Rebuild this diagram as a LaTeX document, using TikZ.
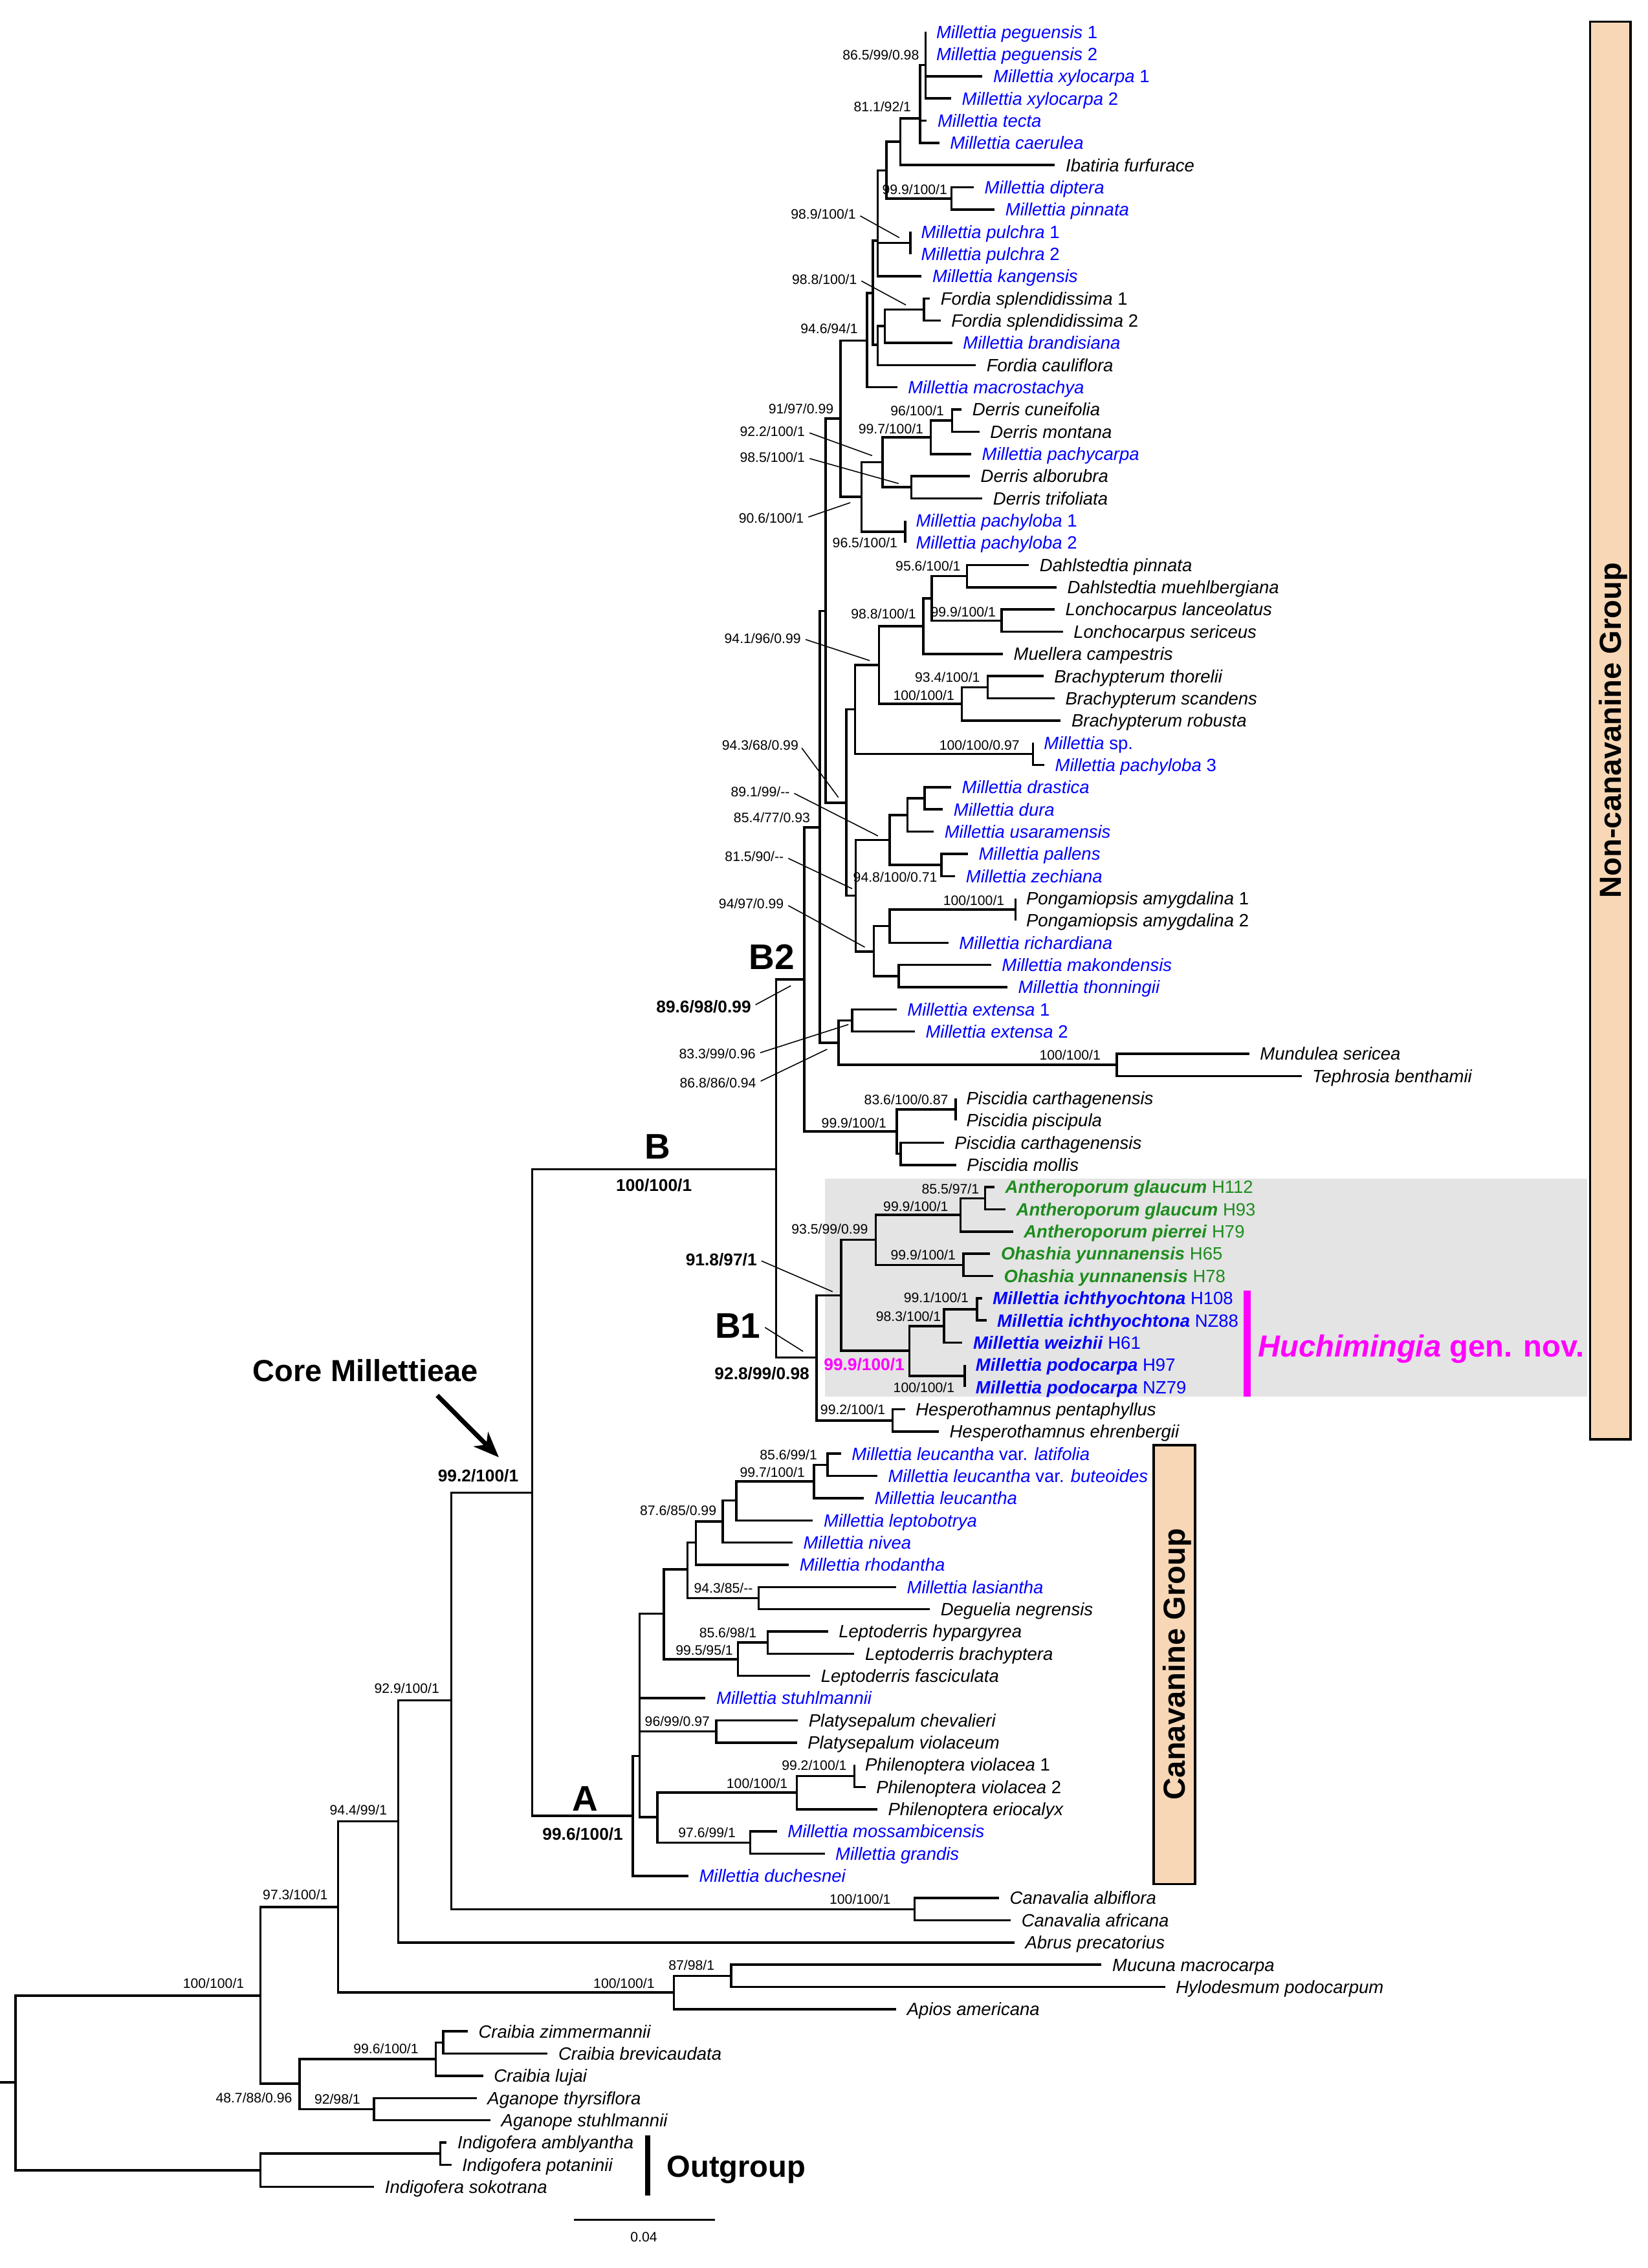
\documentclass[tikz,border=0pt]{standalone}
\usepackage{fontspec}
\setmainfont{Liberation Sans}
\usetikzlibrary{arrows.meta}
\definecolor{milblue}{RGB}{0,0,255}
\definecolor{antgreen}{RGB}{30,140,30}
\definecolor{hucmagenta}{RGB}{255,0,255}
\definecolor{peach}{RGB}{248,215,182}
\definecolor{boxgray}{RGB}{228,228,228}

\begin{document}
\begin{tikzpicture}[x=0.02cm, y=-0.02cm, line width=0.9pt,
    declare function={ry(\x)=22+15.36*(\x-1);},
    tx/.style={anchor=west, inner xsep=3.8pt, inner ysep=0pt, text height=5pt, text depth=0pt, font=\fontsize{7}{8}\selectfont\itshape},
    bk/.style={tx},
    bl/.style={tx, text=milblue},
    gn/.style={tx, text=antgreen, font=\fontsize{7}{8}\selectfont\bfseries\itshape},
    bb/.style={tx, text=milblue, font=\fontsize{7}{8}\selectfont\bfseries\itshape},
    sup/.style={anchor=east, inner sep=0pt, text height=3.8pt, text depth=0pt, font=\fontsize{5.4}{6}\selectfont},
    bsup/.style={inner sep=0pt, text height=4.8pt, text depth=0pt, font=\fontsize{6.7}{8}\selectfont\bfseries},
    cladelab/.style={inner sep=0pt, text height=10pt, text depth=0pt, font=\fontsize{14}{16}\selectfont\bfseries},
    grp/.style={inner sep=0pt, text height=8.6pt, text depth=0pt, font=\fontsize{12}{14}\selectfont\bfseries},
    lead/.style={line width=0.4pt, shorten <=1.5pt}]
    \useasboundingbox (0,0) rectangle (1139,1568);

    % shaded box and group bars
    \fill[boxgray] (570,814.7) rectangle (1097,965.7);
    \draw[fill=peach] (1099,15) rectangle (1127,995);
    \draw[fill=peach] (797.4,999.2) rectangle (826,1302.6);
    \fill[hucmagenta] (859.4,892.2) rectangle (864.5,965.7);
    \draw[line width=2.2pt] (447.6,1476.2) -- (447.6,1517.8);

    % taxa
    \node[bl] (peg1) at (639.7,{ry(1)}) {Millettia peguensis \textup{1}};
    \node[bl] (peg2) at (639.7,{ry(2)}) {Millettia peguensis \textup{2}};
    \node[bl] (xyl1) at (679.1,{ry(3)}) {Millettia xylocarpa \textup{1}};
    \node[bl] (xyl2) at (657.4,{ry(4)}) {Millettia xylocarpa \textup{2}};
    \node[bl] (tect) at (640.6,{ry(5)}) {Millettia tecta};
    \node[bl] (caer) at (649.2,{ry(6)}) {Millettia caerulea};
    \node[bk] (ibat) at (729.2,{ry(7)}) {Ibatiria furfurace};
    \node[bl] (dipt) at (673.1,{ry(8)}) {Millettia diptera};
    \node[bl] (pinn) at (687.5,{ry(9)}) {Millettia pinnata};
    \node[bl] (pul1) at (629.2,{ry(10)}) {Millettia pulchra \textup{1}};
    \node[bl] (pul2) at (629.2,{ry(11)}) {Millettia pulchra \textup{2}};
    \node[bl] (kang) at (637.0,{ry(12)}) {Millettia kangensis};
    \node[bk] (fsp1) at (642.7,{ry(13)}) {Fordia splendidissima \textup{1}};
    \node[bk] (fsp2) at (650.1,{ry(14)}) {Fordia splendidissima \textup{2}};
    \node[bl] (bran) at (658.2,{ry(15)}) {Millettia brandisiana};
    \node[bk] (fcau) at (674.5,{ry(16)}) {Fordia cauliflora};
    \node[bl] (macr) at (620.2,{ry(17)}) {Millettia macrostachya};
    \node[bk] (dcun) at (664.7,{ry(18)}) {Derris cuneifolia};
    \node[bk] (dmon) at (677.0,{ry(19)}) {Derris montana};
    \node[bl] (pchc) at (671.3,{ry(20)}) {Millettia pachycarpa};
    \node[bk] (dalb) at (670.4,{ry(21)}) {Derris alborubra};
    \node[bk] (dtri) at (679.0,{ry(22)}) {Derris trifoliata};
    \node[bl] (pch1) at (625.6,{ry(23)}) {Millettia pachyloba \textup{1}};
    \node[bl] (pch2) at (625.6,{ry(24)}) {Millettia pachyloba \textup{2}};
    \node[bk] (dpin) at (711.2,{ry(25)}) {Dahlstedtia pinnata};
    \node[bk] (dmue) at (730.3,{ry(26)}) {Dahlstedtia muehlbergiana};
    \node[bk] (llan) at (728.9,{ry(27)}) {Lonchocarpus lanceolatus};
    \node[bk] (lser) at (734.6,{ry(28)}) {Lonchocarpus sericeus};
    \node[bk] (mcam) at (693.2,{ry(29)}) {Muellera campestris};
    \node[bk] (bth) at (721.2,{ry(30)}) {Brachypterum thorelii};
    \node[bk] (bsc) at (728.9,{ry(31)}) {Brachypterum scandens};
    \node[bk] (bro) at (733.2,{ry(32)}) {Brachypterum robusta};
    \node[bl] (msp) at (714.1,{ry(33)}) {Millettia \textup{sp.}};
    \node[bl] (pch3) at (721.8,{ry(34)}) {Millettia pachyloba \textup{3}};
    \node[bl] (dras) at (657.4,{ry(35)}) {Millettia drastica};
    \node[bl] (dura) at (651.7,{ry(36)}) {Millettia dura};
    \node[bl] (usar) at (645.4,{ry(37)}) {Millettia usaramensis};
    \node[bl] (pall) at (669.0,{ry(38)}) {Millettia pallens};
    \node[bl] (zech) at (660.2,{ry(39)}) {Millettia zechiana};
    \node[bk] (pam1) at (701.9,{ry(40)}) {Pongamiopsis amygdalina \textup{1}};
    \node[bk] (pam2) at (701.9,{ry(41)}) {Pongamiopsis amygdalina \textup{2}};
    \node[bl] (rich) at (655.5,{ry(42)}) {Millettia richardiana};
    \node[bl] (mako) at (685.0,{ry(43)}) {Millettia makondensis};
    \node[bl] (thon) at (696.3,{ry(44)}) {Millettia thonningii};
    \node[bl] (ext1) at (619.7,{ry(45)}) {Millettia extensa \textup{1}};
    \node[bl] (ext2) at (632.3,{ry(46)}) {Millettia extensa \textup{2}};
    \node[bk] (muse) at (863.5,{ry(47)}) {Mundulea sericea};
    \node[bk] (teph) at (899.6,{ry(48)}) {Tephrosia benthamii};
    \node[bk] (pca1) at (660.5,{ry(49)}) {Piscidia carthagenensis};
    \node[bk] (ppis) at (660.5,{ry(50)}) {Piscidia piscipula};
    \node[bk] (pca2) at (652.4,{ry(51)}) {Piscidia carthagenensis};
    \node[bk] (pmol) at (660.9,{ry(52)}) {Piscidia mollis};
    \node[gn] (ag112) at (687.4,{ry(53)}) {Antheroporum glaucum \textnormal{H112}};
    \node[gn] (ag93) at (695.0,{ry(54)}) {Antheroporum glaucum \textnormal{H93}};
    \node[gn] (ap79) at (700.2,{ry(55)}) {Antheroporum pierrei \textnormal{H79}};
    \node[gn] (oy65) at (684.4,{ry(56)}) {Ohashia yunnanensis \textnormal{H65}};
    \node[gn] (oy78) at (686.5,{ry(57)}) {Ohashia yunnanensis \textnormal{H78}};
    \node[bb] (mi108) at (678.8,{ry(58)}) {Millettia ichthyochtona \textnormal{H108}};
    \node[bb] (mi88) at (681.8,{ry(59)}) {Millettia ichthyochtona \textnormal{NZ88}};
    \node[bb] (mw61) at (665.2,{ry(60)}) {Millettia weizhii \textnormal{H61}};
    \node[bb] (mp97) at (666.9,{ry(61)}) {Millettia podocarpa \textnormal{H97}};
    \node[bb] (mp79) at (666.9,{ry(62)}) {Millettia podocarpa \textnormal{NZ79}};
    \node[bk] (hpen) at (625.5,{ry(63)}) {Hesperothamnus pentaphyllus};
    \node[bk] (hehr) at (648.9,{ry(64)}) {Hesperothamnus ehrenbergii};
    \node[bl] (lvl) at (581.2,{ry(65)}) {Millettia leucantha \textup{var.} latifolia};
    \node[bl] (lvb) at (606.4,{ry(66)}) {Millettia leucantha \textup{var.} buteoides};
    \node[bl] (leuc) at (597.1,{ry(67)}) {Millettia leucantha};
    \node[bl] (lept) at (561.9,{ry(68)}) {Millettia leptobotrya};
    \node[bl] (nive) at (547.8,{ry(69)}) {Millettia nivea};
    \node[bl] (rhod) at (545.2,{ry(70)}) {Millettia rhodantha};
    \node[bl] (lasi) at (619.4,{ry(71)}) {Millettia lasiantha};
    \node[bk] (degu) at (642.7,{ry(72)}) {Deguelia negrensis};
    \node[bk] (lhyp) at (572.3,{ry(73)}) {Leptoderris hypargyrea};
    \node[bk] (lbra) at (590.5,{ry(74)}) {Leptoderris brachyptera};
    \node[bk] (lfas) at (560.0,{ry(75)}) {Leptoderris fasciculata};
    \node[bl] (stuh) at (487.7,{ry(76)}) {Millettia stuhlmannii};
    \node[bk] (pche) at (551.5,{ry(77)}) {Platysepalum chevalieri};
    \node[bk] (pvio) at (550.8,{ry(78)}) {Platysepalum violaceum};
    \node[bk] (phv1) at (590.5,{ry(79)}) {Philenoptera violacea \textup{1}};
    \node[bk] (phv2) at (598.2,{ry(80)}) {Philenoptera violacea \textup{2}};
    \node[bk] (pher) at (606.4,{ry(81)}) {Philenoptera eriocalyx};
    \node[bl] (moss) at (537.0,{ry(82)}) {Millettia mossambicensis};
    \node[bl] (gran) at (570.0,{ry(83)}) {Millettia grandis};
    \node[bl] (duch) at (475.8,{ry(84)}) {Millettia duchesnei};
    \node[bk] (calb) at (690.5,{ry(85)}) {Canavalia albiflora};
    \node[bk] (cafr) at (698.6,{ry(86)}) {Canavalia africana};
    \node[bk] (abru) at (701.2,{ry(87)}) {Abrus precatorius};
    \node[bk] (mucu) at (761.4,{ry(88)}) {Mucuna macrocarpa};
    \node[bk] (hylo) at (805.3,{ry(89)}) {Hylodesmum podocarpum};
    \node[bk] (apio) at (619.5,{ry(90)}) {Apios americana};
    \node[bk] (czim) at (323.3,{ry(91)}) {Craibia zimmermannii};
    \node[bk] (cbre) at (378.5,{ry(92)}) {Craibia brevicaudata};
    \node[bk] (clu) at (333.9,{ry(93)}) {Craibia lujai};
    \node[bk] (athy) at (329.5,{ry(94)}) {Aganope thyrsiflora};
    \node[bk] (astu) at (339.0,{ry(95)}) {Aganope stuhlmannii};
    \node[bk] (iamb) at (308.8,{ry(96)}) {Indigofera amblyantha};
    \node[bk] (ipot) at (312.0,{ry(97)}) {Indigofera potaninii};
    \node[bk] (isok) at (258.6,{ry(98)}) {Indigofera sokotrana};

    % clades, tips upward
    \coordinate (N1) at (639.7,{ry(2.5)});
    \draw (N1) |- (peg1) (N1) |- (peg2) (N1) |- (xyl1) (N1) |- (xyl2);
    \coordinate (N2) at (636.0,{ry(4.89)});
    \draw (N2) |- (N1) (N2) |- (tect) (N2) |- (caer);
    \coordinate (N3) at (622.4,{ry(5.95)});
    \draw (N3) |- (N2) (N3) |- (ibat);
    \coordinate (DP) at (657.6,{ry(8.5)});
    \draw (DP) |- (dipt) (DP) |- (pinn);
    \coordinate (N4) at (612.6,{ry(7.24)});
    \draw (N4) |- (N3) (N4) |- (DP);
    \coordinate (PU) at (629.2,{ry(10.5)});
    \draw (PU) |- (pul1) (PU) |- (pul2);
    \coordinate (N5) at (606.7,{ry(10.4)});
    \draw (N5) |- (N4) (N5) |- (PU) (N5) |- (kang);
    \coordinate (FS) at (638.7,{ry(13.5)});
    \draw (FS) |- (fsp1) (FS) |- (fsp2);
    \coordinate (N6) at (611.5,{ry(14.25)});
    \draw (N6) |- (FS) (N6) |- (bran);
    \coordinate (N7) at (606.7,{ry(15.08)});
    \draw (N7) |- (N6) (N7) |- (fcau);
    \coordinate (N8) at (603.4,{ry(12.76)});
    \draw (N8) |- (N5) (N8) |- (N7);
    \coordinate (N9) at (599.4,{ry(14.9)});
    \draw (N9) |- (N8) (N9) |- (macr);
    \coordinate (DCM) at (658.1,{ry(18.5)});
    \draw (DCM) |- (dcun) (DCM) |- (dmon);
    \coordinate (DC) at (643.3,{ry(19.25)});
    \draw (DC) |- (DCM) (DC) |- (pchc);
    \coordinate (DA) at (629.9,{ry(21.5)});
    \draw (DA) |- (dalb) (DA) |- (dtri);
    \coordinate (D2) at (609.9,{ry(20.37)});
    \draw (D2) |- (DC) (D2) |- (DA);
    \coordinate (PC) at (625.6,{ry(23.5)});
    \draw (PC) |- (pch1) (PC) |- (pch2);
    \coordinate (D3) at (595.4,{ry(21.93)});
    \draw (D3) |- (D2) (D3) |- (PC);
    \coordinate (N10) at (581.0,{ry(18.4)});
    \draw (N10) |- (N9) (N10) |- (D3);
    \coordinate (DL) at (668.4,{ry(25.5)});
    \draw (DL) |- (dpin) (DL) |- (dmue);
    \coordinate (LO) at (692.4,{ry(27.5)});
    \draw (LO) |- (llan) (LO) |- (lser);
    \coordinate (L1) at (643.9,{ry(26.5)});
    \draw (L1) |- (DL) (L1) |- (LO);
    \coordinate (L2) at (638.2,{ry(27.75)});
    \draw (L2) |- (L1) (L2) |- (mcam);
    \coordinate (BR1) at (682.7,{ry(30.5)});
    \draw (BR1) |- (bth) (BR1) |- (bsc);
    \coordinate (BR2) at (664.7,{ry(31.25)});
    \draw (BR2) |- (BR1) (BR2) |- (bro);
    \coordinate (L3) at (607.6,{ry(29.5)});
    \draw (L3) |- (L2) (L3) |- (BR2);
    \coordinate (SP) at (714.1,{ry(33.5)});
    \draw (SP) |- (msp) (SP) |- (pch3);
    \coordinate (L4) at (591.1,{ry(31.5)});
    \draw (L4) |- (L3) (L4) |- (SP);
    \coordinate (DD) at (639.2,{ry(35.5)});
    \draw (DD) |- (dras) (DD) |- (dura);
    \coordinate (U1) at (627.2,{ry(36.25)});
    \draw (U1) |- (DD) (U1) |- (usar);
    \coordinate (PZ) at (650.8,{ry(38.5)});
    \draw (PZ) |- (pall) (PZ) |- (zech);
    \coordinate (U2) at (615.0,{ry(37.38)});
    \draw (U2) |- (U1) (U2) |- (PZ);
    \coordinate (PG) at (701.9,{ry(40.5)});
    \draw (PG) |- (pam1) (PG) |- (pam2);
    \coordinate (P1) at (615.0,{ry(41.25)});
    \draw (P1) |- (PG) (P1) |- (rich);
    \coordinate (MT) at (621.3,{ry(43.5)});
    \draw (MT) |- (mako) (MT) |- (thon);
    \coordinate (P2) at (604.0,{ry(42.4)});
    \draw (P2) |- (P1) (P2) |- (MT);
    \coordinate (M2) at (591.5,{ry(39.88)});
    \draw (M2) |- (U2) (M2) |- (P2);
    \coordinate (M1) at (585.0,{ry(35.7)});
    \draw (M1) |- (L4) (M1) |- (M2);
    \coordinate (N11) at (570.6,{ry(27.07)});
    \draw (N11) |- (N10) (N11) |- (M1);
    \coordinate (EX) at (588.9,{ry(45.5)});
    \draw (EX) |- (ext1) (EX) |- (ext2);
    \coordinate (MU) at (771.9,{ry(47.5)});
    \draw (MU) |- (muse) (MU) |- (teph);
    \coordinate (E1) at (579.5,{ry(46.5)});
    \draw (E1) |- (EX) (E1) |- (MU);
    \coordinate (N12) at (566.6,{ry(36.8)});
    \draw (N12) |- (N11) (N12) |- (E1);
    \coordinate (PSa) at (660.5,{ry(49.5)});
    \draw (PSa) |- (pca1) (PSa) |- (ppis);
    \coordinate (PSb) at (622.5,{ry(51.5)});
    \draw (PSb) |- (pca2) (PSb) |- (pmol);
    \coordinate (PS) at (619.9,{ry(50.5)});
    \draw (PS) |- (PSa) (PS) |- (PSb);
    \coordinate (B2) at (556.0,{ry(43.65)});
    \draw (B2) |- (N12) (B2) |- (PS);
    \coordinate (AG) at (681.0,{ry(53.5)});
    \draw (AG) |- (ag112) (AG) |- (ag93);
    \coordinate (AN) at (663.9,{ry(54.25)});
    \draw (AN) |- (AG) (AN) |- (ap79);
    \coordinate (OH) at (666.0,{ry(56.5)});
    \draw (OH) |- (oy65) (OH) |- (oy78);
    \coordinate (AO) at (605.4,{ry(55.37)});
    \draw (AO) |- (AN) (AO) |- (OH);
    \coordinate (IC) at (675.4,{ry(58.5)});
    \draw (IC) |- (mi108) (IC) |- (mi88);
    \coordinate (IW) at (652.4,{ry(59.25)});
    \draw (IW) |- (IC) (IW) |- (mw61);
    \coordinate (PO) at (666.9,{ry(61.5)});
    \draw (PO) |- (mp97) (PO) |- (mp79);
    \coordinate (HU) at (628.5,{ry(60.36)});
    \draw (HU) |- (IW) (HU) |- (PO);
    \coordinate (G) at (581.5,{ry(57.87)});
    \draw (G) |- (AO) (G) |- (HU);
    \coordinate (HE) at (616.9,{ry(63.5)});
    \draw (HE) |- (hpen) (HE) |- (hehr);
    \coordinate (B1) at (564.4,{ry(60.67)});
    \draw (B1) |- (G) (B1) |- (HE);
    \coordinate (B) at (536.5,{ry(52.2)});
    \draw (B) |- (B2) (B) |- (B1);
    \coordinate (LB) at (571.9,{ry(65.5)});
    \draw (LB) |- (lvl) (LB) |- (lvb);
    \coordinate (A8) at (562.6,{ry(66.25)});
    \draw (A8) |- (LB) (A8) |- (leuc);
    \coordinate (A7) at (508.9,{ry(67.1)});
    \draw (A7) |- (A8) (A7) |- (lept);
    \coordinate (A6) at (499.6,{ry(68.05)});
    \draw (A6) |- (A7) (A6) |- (nive);
    \coordinate (A5) at (481.0,{ry(69.0)});
    \draw (A5) |- (A6) (A5) |- (rhod);
    \coordinate (LD) at (524.4,{ry(71.5)});
    \draw (LD) |- (lasi) (LD) |- (degu);
    \coordinate (A4) at (475.1,{ry(70.2)});
    \draw (A4) |- (A5) (A4) |- (LD);
    \coordinate (LH) at (530.7,{ry(73.5)});
    \draw (LH) |- (lhyp) (LH) |- (lbra);
    \coordinate (LE) at (510.0,{ry(74.25)});
    \draw (LE) |- (LH) (LE) |- (lfas);
    \coordinate (A3) at (458.8,{ry(72.2)});
    \draw (A3) |- (A4) (A3) |- (LE);
    \coordinate (PL) at (495.1,{ry(77.5)});
    \draw (PL) |- (pche) (PL) |- (pvio);
    \coordinate (PV) at (590.5,{ry(79.5)});
    \draw (PV) |- (phv1) (PV) |- (phv2);
    \coordinate (PH) at (550.8,{ry(80.25)});
    \draw (PH) |- (PV) (PH) |- (pher);
    \coordinate (MG) at (518.5,{ry(82.5)});
    \draw (MG) |- (moss) (MG) |- (gran);
    \coordinate (PM) at (454.3,{ry(81.35)});
    \draw (PM) |- (PH) (PM) |- (MG);
    \coordinate (A2) at (442.0,{ry(78.6)});
    \draw (A2) |- (A3) (A2) |- (stuh) (A2) |- (PL) (A2) |- (PM);
    \coordinate (A) at (437.3,{ry(81.3)});
    \draw (A) |- (A2) (A) |- (duch);
    \coordinate (CORE) at (367.8,{ry(66.75)});
    \draw (CORE) |- (B) (CORE) |- (A);
    \coordinate (CV) at (632.1,{ry(85.5)});
    \draw (CV) |- (calb) (CV) |- (cafr);
    \coordinate (C1) at (312.0,{ry(76.1)});
    \draw (C1) |- (CORE) (C1) |- (CV);
    \coordinate (C2) at (275.2,{ry(81.55)});
    \draw (C2) |- (C1) (C2) |- (abru);
    \coordinate (MH) at (505.3,{ry(88.5)});
    \draw (MH) |- (mucu) (MH) |- (hylo);
    \coordinate (MHA) at (465.8,{ry(89.25)});
    \draw (MHA) |- (MH) (MHA) |- (apio);
    \coordinate (C3) at (233.7,{ry(85.4)});
    \draw (C3) |- (C2) (C3) |- (MHA);
    \coordinate (CZ) at (306.3,{ry(91.5)});
    \draw (CZ) |- (czim) (CZ) |- (cbre);
    \coordinate (CR) at (301.3,{ry(92.25)});
    \draw (CR) |- (CZ) (CR) |- (clu);
    \coordinate (AGp) at (258.6,{ry(94.5)});
    \draw (AGp) |- (athy) (AGp) |- (astu);
    \coordinate (CA) at (207.1,{ry(93.35)});
    \draw (CA) |- (CR) (CA) |- (AGp);
    \coordinate (C4) at (180.1,{ry(89.39)});
    \draw (C4) |- (C3) (C4) |- (CA);
    \coordinate (IA) at (304.4,{ry(96.5)});
    \draw (IA) |- (iamb) (IA) |- (ipot);
    \coordinate (IN) at (180.1,{ry(97.25)});
    \draw (IN) |- (IA) (IN) |- (isok);
    \coordinate (ROOT) at (10.7,{ry(93.3)});
    \draw (ROOT) |- (C4) (ROOT) |- (IN);
    \coordinate (stub) at (0,{ry(93.3)});
    \draw (stub) -- (ROOT);

    % support values
    \node[sup] (s01) at (636.0,38) {86.5/99/0.98};
    \node[sup] (s02) at (630.5,74) {81.1/92/1};
    \node[sup] (s03) at (655.5,131) {99.9/100/1};
    \node[sup] (s04) at (592.3,148) {98.9/100/1};
    \node[sup] (s05) at (593.1,193) {98.8/100/1};
    \node[sup] (s06) at (593.7,227.3) {94.6/94/1};
    \node[sup] (s07) at (576.9,282.5) {91/97/0.99};
    \node[sup] (s08) at (653.3,284.2) {96/100/1};
    \node[sup] (s09) at (639.0,296.6) {99.7/100/1};
    \node[sup] (s10) at (557.1,298.4) {92.2/100/1};
    \node[sup] (s11) at (557.1,316.3) {98.5/100/1};
    \node[sup] (s12) at (556.3,358.3) {90.6/100/1};
    \node[sup] (s13) at (621.1,375.4) {96.5/100/1};
    \node[sup] (s14) at (664.7,391.3) {95.6/100/1};
    \node[sup] (s15) at (633.9,424.5) {98.8/100/1};
    \node[sup] (s16) at (689.0,423) {99.9/100/1};
    \node[sup] (s17) at (554.3,441.3) {94.1/96/0.99};
    \node[sup] (s18) at (678.1,468.4) {93.4/100/1};
    \node[sup] (s19) at (660.4,480.7) {100/100/1};
    \node[sup] (s20) at (705.5,515) {100/100/0.97};
    \node[sup] (s21) at (552.6,515) {94.3/68/0.99};
    \node[sup] (s22) at (546.6,547.3) {89.1/99/{-}{-}};
    \node[sup] (s23) at (560.7,565.3) {85.4/77/0.93};
    \node[sup] (s24) at (542.5,592.3) {81.5/90/{-}{-}};
    \node[sup] (s25) at (648.6,606.4) {94.8/100/0.71};
    \node[sup] (s26) at (695.0,622.4) {100/100/1};
    \node[sup] (s27) at (542.5,624.8) {94/97/0.99};
    \node[sup] (s28) at (523.0,728.6) {83.3/99/0.96};
    \node[sup] (s29) at (523.4,748.6) {86.8/86/0.94};
    \node[sup] (s30) at (761.5,729.4) {100/100/1};
    \node[sup] (s31) at (656.2,760.4) {83.6/100/0.87};
    \node[sup] (s32) at (613.5,776.4) {99.9/100/1};
    \node[sup] (s33) at (677.5,821.9) {85.5/97/1};
    \node[sup] (s34) at (656.2,833.9) {99.9/100/1};
    \node[sup] (s35) at (600.7,849.9) {93.5/99/0.99};
    \node[sup] (s36) at (661.3,867.5) {99.9/100/1};
    \node[sup] (s37) at (670.3,897.3) {99.1/100/1};
    \node[sup] (s38) at (651.1,910.1) {98.3/100/1};
    \node[sup] (s39) at (660.5,959.3) {100/100/1};
    \node[sup] (s40) at (612.7,974.5) {99.2/100/1};
    \node[sup] (s41) at (565.6,1006) {85.6/99/1};
    \node[sup] (s42) at (557.1,1017.8) {99.7/100/1};
    \node[sup] (s43) at (495.9,1044.5) {87.6/85/0.99};
    \node[sup] (s44) at (521.1,1098.0) {94.3/85/{-}{-}};
    \node[sup] (s45) at (523.7,1128.7) {85.6/98/1};
    \node[sup] (s46) at (507.4,1140.8) {99.5/95/1};
    \node[sup] (s47) at (491.4,1190.1) {96/99/0.97};
    \node[sup] (s48) at (586.0,1220.7) {99.2/100/1};
    \node[sup] (s49) at (545.2,1232.9) {100/100/1};
    \node[sup] (s50) at (509.2,1267.1) {97.6/99/1};
    \node[sup] (s51) at (616.4,1313.3) {100/100/1};
    \node[sup] (s52) at (304.4,1167.2) {92.9/100/1};
    \node[sup] (s53) at (268.3,1251.3) {94.4/99/1};
    \node[sup] (s54) at (227.3,1310) {97.3/100/1};
    \node[sup] (s55) at (494.6,1358.9) {87/98/1};
    \node[sup] (s56) at (453.2,1371.4) {100/100/1};
    \node[sup] (s57) at (169.5,1371.4) {100/100/1};
    \node[sup] (s58) at (290.0,1416.3) {99.6/100/1};
    \node[sup] (s59) at (202.7,1450.4) {48.7/88/0.96};
    \node[sup] (s60) at (249.8,1451.3) {92/98/1};

    \node[bsup] (bsB) at (452,819.3) {100/100/1};
    \node[bsup] (bsCore) at (330.5,1020.2) {99.2/100/1};
    \node[bsup] (bsA) at (402.8,1267.8) {99.6/100/1};
    \node[bsup, anchor=east] (bsB2) at (519.9,695.9) {89.6/98/0.99};
    \node[bsup, anchor=east] (bsInner) at (523.9,870.7) {91.8/97/1};
    \node[bsup, anchor=east] (bsB1) at (560.2,949.5) {92.8/99/0.98};
    \node[bsup, anchor=west, text=hucmagenta] (bsHu) at (568.7,943.4) {99.9/100/1};

    % leader lines
    \coordinate (s04t) at (621.6,164.3);
    \coordinate (s05t) at (626.2,210.9);
    \coordinate (s10t) at (602.8,315.0);
    \coordinate (s11t) at (621.1,334.3);
    \coordinate (s12t) at (587.7,347.5);
    \coordinate (s17t) at (601.1,456.7);
    \coordinate (s21t) at (579.5,551.3);
    \coordinate (s22t) at (606.8,577.9);
    \coordinate (s24t) at (589.0,614.4);
    \coordinate (s27t) at (597.7,654.8);
    \coordinate (s28t) at (586.4,708.3);
    \coordinate (s29t) at (571.7,725.4);
    \coordinate (bsB2t) at (546.6,681.5);
    \coordinate (bsInnert) at (575.5,893.0);
    \coordinate (labB1t) at (555.1,934.3);
    \draw[lead] (s04.east) -- (s04t);
    \draw[lead] (s05.east) -- (s05t);
    \draw[lead] (s10.east) -- (s10t);
    \draw[lead] (s11.east) -- (s11t);
    \draw[lead] (s12.east) -- (s12t);
    \draw[lead] (s17.east) -- (s17t);
    \draw[lead] (s21.east) -- (s21t);
    \draw[lead] (s22.east) -- (s22t);
    \draw[lead] (s24.east) -- (s24t);
    \draw[lead] (s27.east) -- (s27t);
    \draw[lead] (s28.east) -- (s28t);
    \draw[lead] (s29.east) -- (s29t);
    \draw[lead] (bsB2.east) -- (bsB2t);
    \draw[lead] (bsInner.east) -- (bsInnert);

    % clade and group labels
    \node[cladelab] (labB) at (454.5,792.2) {B};
    \node[cladelab] (labB2) at (533.3,661.3) {B2};
    \node[cladelab] (labB1) at (510,916.3) {B1};
    \node[cladelab] (labA) at (404.3,1243.1) {A};
    \draw[lead] (labB1.east) -- (labB1t);
    \node[grp] (labCore) at (252.6,947.5) {Core Millettieae};
    \coordinate (arrS) at (302.2,964.7);
    \coordinate (arrE) at (344.8,1007.5);
    \draw[-{Stealth[length=10pt,width=8pt,inset=3pt]}, line width=1.8pt] (arrS) -- (arrE);
    \node[grp, anchor=west] (labOut) at (460.1,1497.8) {Outgroup};
    \node[grp, rotate=90] (labNon) at (1113,505) {Non-canavanine Group};
    \node[grp, rotate=90] (labCan) at (811.7,1150.5) {Canavanine Group};
    \node[grp, anchor=west, text=hucmagenta] (labHu) at (868.8,930.6) {\textit{Huchimingia} gen. nov.};

    % scale bar
    \draw (396.7,1534.6) -- (494,1534.6);
    \node[sup, anchor=center] (scale) at (445,1546.4) {0.04};
\end{tikzpicture}
\end{document}
